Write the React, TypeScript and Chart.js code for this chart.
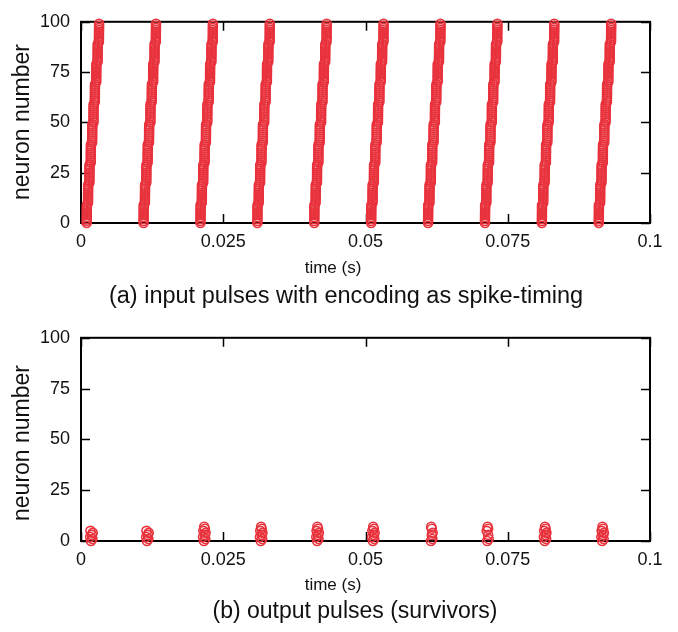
import React, { useEffect, useRef } from "react";
import { Chart, registerables } from "chart.js";

Chart.register(...registerables);

// ---------------- data ----------------
const xTickValues = [0, 0.025, 0.05, 0.075, 0.1];
const yTickValues = [0, 25, 50, 75, 100];
const xTitleText = "time (s)";
const yTitleText = "neuron number";
const captionA = "(a) input pulses with encoding as spike-timing";
const captionB = "(b) output pulses (survivors)";

// onset (s) of each input burst (time of neuron 0)
const burstOnsets = [0.0010, 0.0110, 0.0210, 0.0310, 0.0410, 0.0510, 0.0610, 0.0710, 0.0810, 0.0910];

// spike delay (ms) of each input neuron 0..99 relative to the burst onset
const inputDelayMs = [
  0.00, 0.00, 0.00, 0.01, 0.01, 0.01, 0.02, 0.02, 0.02, 0.02,
  0.23, 0.23, 0.24, 0.24, 0.24, 0.25, 0.25, 0.25, 0.26, 0.26,
  0.47, 0.47, 0.48, 0.48, 0.48, 0.49, 0.49, 0.49, 0.50, 0.50,
  0.71, 0.71, 0.72, 0.72, 0.72, 0.73, 0.73, 0.73, 0.74, 0.74,
  0.95, 0.95, 0.96, 0.96, 0.96, 0.97, 0.97, 0.97, 0.98, 0.98,
  1.19, 1.19, 1.20, 1.20, 1.20, 1.21, 1.21, 1.21, 1.22, 1.22,
  1.43, 1.43, 1.44, 1.44, 1.44, 1.45, 1.45, 1.45, 1.46, 1.46,
  1.67, 1.67, 1.68, 1.68, 1.68, 1.69, 1.69, 1.69, 1.70, 1.70,
  1.91, 1.91, 1.92, 1.92, 1.92, 1.93, 1.93, 1.93, 1.94, 1.94,
  2.15, 2.15, 2.16, 2.16, 2.16, 2.17, 2.17, 2.17, 2.18, 2.18,
];

// output (survivor) spikes: time of each output burst (s) and which neurons fired
const outputTimes = [0.00176, 0.0116, 0.0216, 0.0316, 0.0415, 0.0513, 0.0615, 0.0714, 0.0815, 0.0916];
const outputNeurons = [
  [0, 1, 2, 3, 4, 5],
  [0, 1, 2, 3, 4, 5],
  [0, 1, 2, 3, 4, 5, 6, 7],
  [0, 1, 2, 3, 4, 5, 6, 7],
  [0, 1, 2, 3, 4, 5, 6, 7],
  [0, 1, 2, 3, 4, 5, 6, 7],
  [0, 1, 3, 4, 6, 7],
  [0, 1, 3, 5, 6, 7],
  [0, 1, 2, 3, 4, 5, 6, 7],
  [0, 1, 2, 3, 4, 5, 6, 7],
];
// small per-neuron timing jitter (ms) inside an output burst
const outputJitterMs = [0.0, 0.25, -0.15, 0.15, 0.3, -0.1, 0.15, 0.05];

// ---------------- styling ----------------
const RED = "#e8323c";
const FONT = "'Liberation Sans', Arial, Helvetica, sans-serif";

function buildInputPoints() {
  const pts: { x: number; y: number }[] = [];
  burstOnsets.forEach((t0) => {
    inputDelayMs.forEach((d, n) => {
      pts.push({ x: t0 + d / 1000, y: n });
    });
  });
  return pts;
}

function buildOutputPoints() {
  const pts: { x: number; y: number }[] = [];
  outputTimes.forEach((t, i) => {
    outputNeurons[i].forEach((n) => {
      pts.push({ x: t + outputJitterMs[n] / 1000, y: n });
    });
  });
  return pts;
}

const framePlugin = {
  id: "gnuFrame",
  beforeDatasetsDraw(chart: any) {
    const { ctx, chartArea } = chart;
    const { left, right, top, bottom } = chartArea;
    const xs = chart.scales.x;
    const ys = chart.scales.y;
    ctx.save();
    ctx.strokeStyle = "#000";
    ctx.lineWidth = 1.5;
    ctx.beginPath();
    const L = 9;
    xTickValues.forEach((v) => {
      const px = Math.round(xs.getPixelForValue(v)) + 0.5;
      ctx.moveTo(px, bottom);
      ctx.lineTo(px, bottom - L);
      ctx.moveTo(px, top);
      ctx.lineTo(px, top + L);
    });
    yTickValues.forEach((v) => {
      const py = Math.round(ys.getPixelForValue(v)) + 0.5;
      ctx.moveTo(left, py);
      ctx.lineTo(left + L, py);
      ctx.moveTo(right, py);
      ctx.lineTo(right - L, py);
    });
    ctx.stroke();
    ctx.lineWidth = 2;
    ctx.strokeRect(left, top, right - left, bottom - top);
    ctx.restore();
  },
};

const textPlugin = {
  id: "gnuTexts",
  afterDraw(chart: any, _args: any, opts: any) {
    const { ctx } = chart;
    ctx.save();
    ctx.fillStyle = "#111";
    ctx.textAlign = "center";
    ctx.textBaseline = "middle";
    ctx.font = `17px ${FONT}`;
    ctx.fillText(opts.xTitle, opts.xTitlePos[0], opts.xTitlePos[1]);
    ctx.font = `${opts.captionSize}px ${FONT}`;
    ctx.fillText(opts.caption, opts.captionPos[0], opts.captionPos[1]);
    ctx.translate(opts.yTitlePos[0], opts.yTitlePos[1]);
    ctx.rotate(-Math.PI / 2);
    ctx.font = `23px ${FONT}`;
    ctx.fillText(opts.yTitle, 0, 0);
    ctx.restore();
  },
};

function makeConfig(points: any[], padTop: number, xAxisHeight: number, texts: any) {
  return {
    type: "scatter" as const,
    data: {
      datasets: [
        {
          data: points,
          pointStyle: "circle",
          pointRadius: 4.5,
          pointBorderWidth: 1.6,
          borderColor: RED,
          backgroundColor: "rgba(0,0,0,0)",
          pointBackgroundColor: "rgba(0,0,0,0)",
          pointBorderColor: RED,
          showLine: false,
          clip: false as any,
        },
      ],
    },
    options: {
      responsive: false,
      animation: false as const,
      devicePixelRatio: 1,
      layout: { padding: { top: padTop, right: 28, left: 0, bottom: 0 } },
      plugins: {
        legend: { display: false },
        tooltip: { enabled: false },
        title: { display: false },
        gnuTexts: texts,
      },
      events: [],
      scales: {
        x: {
          type: "linear" as const,
          min: 0,
          max: 0.1,
          grid: { display: false, drawTicks: false },
          border: { display: false },
          afterBuildTicks(scale: any) {
            scale.ticks = xTickValues.map((v) => ({ value: v }));
          },
          afterFit(scale: any) {
            scale.height = xAxisHeight;
          },
          ticks: {
            padding: 8,
            maxRotation: 0,
            autoSkip: false,
            color: "#111",
            font: { family: FONT, size: 18 },
            callback: (v: any) => String(Number(Number(v).toFixed(3))),
          },
        },
        y: {
          type: "linear" as const,
          min: 0,
          max: 100,
          grid: { display: false, drawTicks: false },
          border: { display: false },
          afterBuildTicks(scale: any) {
            scale.ticks = yTickValues.map((v) => ({ value: v }));
          },
          afterFit(scale: any) {
            scale.width = 81;
          },
          ticks: {
            padding: 11,
            autoSkip: false,
            color: "#111",
            font: { family: FONT, size: 18 },
            callback: (v: any) => String(v),
          },
        },
      },
    },
    plugins: [framePlugin, textPlugin],
  };
}

function Panel({ points, top, height, padTop, xAxisHeight, texts }: any) {
  const ref = useRef<HTMLCanvasElement | null>(null);
  useEffect(() => {
    if (!ref.current) return;
    const chart = new Chart(ref.current, makeConfig(points, padTop, xAxisHeight, texts) as any);
    return () => chart.destroy();
  }, []);
  return (
    <canvas
      ref={ref}
      width={678}
      height={height}
      style={{ position: "absolute", left: 0, top, width: 678, height, display: "block" }}
    />
  );
}

export default function App() {
  const inputPts = buildInputPoints();
  const outputPts = buildOutputPoints();
  return (
    <div style={{ position: "absolute", left: 0, top: 0, width: 678, height: 632, background: "#fff" }}>
      <Panel
        points={inputPts}
        top={0}
        height={316}
        padTop={13}
        xAxisHeight={93}
        texts={{
          xTitle: xTitleText,
          xTitlePos: [333, 268],
          caption: captionA,
          captionSize: 23.5,
          captionPos: [346, 297],
          yTitle: yTitleText,
          yTitlePos: [23, 122],
        }}
      />
      <Panel
        points={outputPts}
        top={316}
        height={316}
        padTop={15}
        xAxisHeight={91}
        texts={{
          xTitle: xTitleText,
          xTitlePos: [333, 269],
          caption: captionB,
          captionSize: 23,
          captionPos: [355, 296],
          yTitle: yTitleText,
          yTitlePos: [23, 127],
        }}
      />
    </div>
  );
}
